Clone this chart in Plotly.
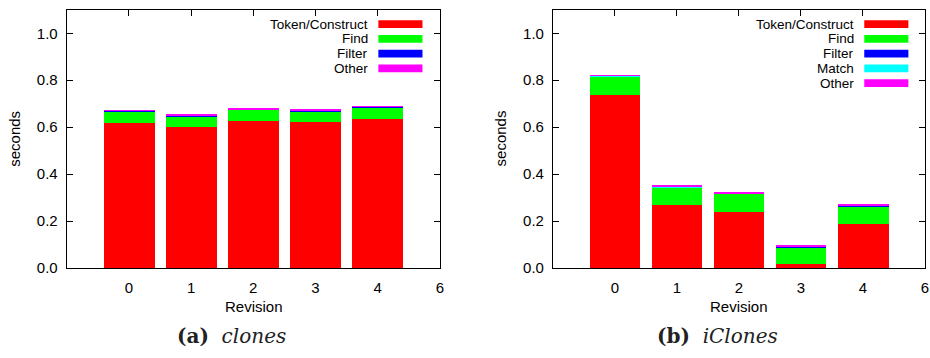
import plotly.graph_objects as go

# ---------------- data ----------------
revisions = [0, 1, 2, 3, 4]
tick_vals = [0, 1, 2, 3, 4, 5]
tick_text = ["0", "1", "2", "3", "4", "6"]
y_ticks = [0.0, 0.2, 0.4, 0.6, 0.8, 1.0]

# (a) clones
clones_names = ["Token/Construct", "Find", "Filter", "Other"]
clones_token = [0.620, 0.601, 0.628, 0.625, 0.638]
clones_find = [0.049, 0.046, 0.047, 0.045, 0.047]
clones_filter = [0.002, 0.004, 0.003, 0.003, 0.003]
clones_other = [0.002, 0.003, 0.004, 0.004, 0.002]

# (b) iClones
iclones_names = ["Token/Construct", "Find", "Filter", "Match", "Other"]
iclones_token = [0.739, 0.268, 0.239, 0.017, 0.189]
iclones_find = [0.078, 0.076, 0.078, 0.073, 0.076]
iclones_filter = [0.002, 0.002, 0.002, 0.002, 0.002]
iclones_match = [0.001, 0.001, 0.001, 0.001, 0.001]
iclones_other = [0.002, 0.005, 0.004, 0.005, 0.005]

colors = {"Token/Construct": "#ff0000", "Find": "#00ff00", "Filter": "#0000ff",
          "Match": "#00ffff", "Other": "#ff00ff"}

W, H = 930, 358
FONT = "Liberation Sans, Arial, sans-serif"
SERIF = "DejaVu Serif, serif"


def px(x):
    return x / W


def py(y):
    return 1 - y / H


fig = go.Figure()

panels = [
    dict(names=clones_names,
         series=[clones_token, clones_find, clones_filter, clones_other],
         xa="x", ya="y", left=67, right=441.7, text_right=370.7,
         sw_l=380, sw_r=424.3, title_x=254.7, ylab_x=15,
         caption=("(a)", "clones"), cap_x=233),
    dict(names=iclones_names,
         series=[iclones_token, iclones_find, iclones_filter, iclones_match, iclones_other],
         xa="x2", ya="y2", left=555.3, right=929, text_right=858.7,
         sw_l=868, sw_r=912.3, title_x=742.5, ylab_x=502.8,
         caption=("(b)", "iClones"), cap_x=721),
]

top, bottom = 10, 274.3
ydom = [py(bottom), py(top)]

annotations = []
shapes = []

for i, p in enumerate(panels):
    for name, vals in zip(p["names"], p["series"]):
        fig.add_trace(go.Bar(x=revisions, y=vals, name=name, width=0.82,
                             marker=dict(color=colors[name], line=dict(width=0)),
                             xaxis=p["xa"], yaxis=p["ya"], showlegend=False))
    n = "" if i == 0 else "2"
    xdom = [px(p["left"]), px(p["right"])]
    axis_common = dict(showline=True, linecolor="black", linewidth=1,
                       showgrid=False, zeroline=False,
                       tickfont=dict(family=FONT, size=15, color="black"))
    fig.update_layout(**{
        f"xaxis{n}": dict(domain=xdom, range=[-1, 5], tickvals=tick_vals, ticktext=tick_text,
                          ticks="", anchor=f"y{n}", ticklabelstandoff=6, mirror=True,
                          **axis_common),
        f"yaxis{n}": dict(domain=ydom, range=[0, 1.1], tickvals=y_ticks, tickformat=".1f",
                          ticks="inside", ticklen=6, tickcolor="black", tickwidth=1,
                          anchor=f"x{n}", ticklabelstandoff=5, mirror="ticks",
                          **axis_common),
    })
    # top mirrored x ticks (gnuplot style, bottom ticks hidden behind bars)
    k = 3 + i
    fig.update_layout(**{
        f"xaxis{k}": dict(overlaying=f"x{n}", side="top", range=[-1, 5], tickvals=revisions,
                          ticks="inside", ticklen=6, tickcolor="black", tickwidth=1,
                          showticklabels=False, showgrid=False, zeroline=False,
                          showline=False, anchor=f"y{n}"),
    })
    fig.add_trace(go.Scatter(x=[None], y=[None], xaxis=f"x{k}", yaxis=f"y{n}",
                             showlegend=False, hoverinfo="skip"))

    # legend (gnuplot style: text then swatch)
    for r, name in enumerate(p["names"]):
        cy = 24.7 + r * 15.1
        annotations.append(dict(x=px(p["text_right"]), y=py(cy), xref="paper", yref="paper",
                                text=name, showarrow=False, xanchor="right", yanchor="middle",
                                borderpad=0,
                                font=dict(family=FONT, size=13.5, color="black")))
        shapes.append(dict(type="rect", xref="paper", yref="paper",
                           x0=px(p["sw_l"]), x1=px(p["sw_r"]),
                           y0=py(cy + 4), y1=py(cy - 4),
                           fillcolor=colors[name], line=dict(width=0)))

    # axis titles
    annotations.append(dict(x=px(p["title_x"]), y=py(313), xref="paper", yref="paper",
                            text="Revision", showarrow=False, xanchor="center", yanchor="middle",
                            font=dict(family=FONT, size=15, color="black")))
    annotations.append(dict(x=px(p["ylab_x"]), y=py(142), xref="paper", yref="paper",
                            text="seconds", showarrow=False, textangle=-90,
                            xanchor="center", yanchor="middle",
                            font=dict(family=FONT, size=15, color="black")))
    # caption
    lab, nm = p["caption"]
    annotations.append(dict(x=px(p["cap_x"]), y=py(344), xref="paper", yref="paper",
                            text=f"<b>{lab}</b>  <i>{nm}</i>", showarrow=False,
                            xanchor="center", yanchor="middle",
                            font=dict(family=SERIF, size=20, color="#222222")))

fig.update_layout(width=W, height=H, margin=dict(l=0, r=0, t=0, b=0),
                  barmode="stack", bargap=0, plot_bgcolor="white", paper_bgcolor="white",
                  showlegend=False, annotations=annotations, shapes=shapes)

fig.write_html("out.html", config={"displayModeBar": False},
               post_script="document.body.style.margin='0';document.body.style.overflow='hidden';")
